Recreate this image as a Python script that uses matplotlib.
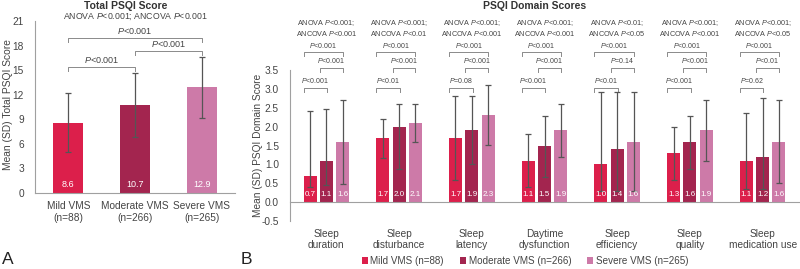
import matplotlib
matplotlib.use("Agg")
import matplotlib.pyplot as plt
from matplotlib.patches import Patch
import numpy as np

plt.rcParams['font.family'] = ['Liberation Sans', 'DejaVu Sans']
plt.rcParams['mathtext.fontset'] = 'custom'
plt.rcParams['mathtext.rm'] = 'Liberation Sans'
plt.rcParams['mathtext.it'] = 'Liberation Sans:italic'

# ---------------- data ----------------
groups = ["Mild VMS (n=88)", "Moderate VMS (n=266)", "Severe VMS (n=265)"]
total_labels = ["Mild VMS\n(n=88)", "Moderate VMS\n(n=266)", "Severe VMS\n(n=265)"]
total_mean = [8.6, 10.7, 12.9]
total_sd = [3.6, 3.9, 3.75]
total_pairs = ["$P$<0.001", "$P$<0.001", "$P$<0.001"]  # mild-mod, mod-sev, mild-sev
total_anova = "ANOVA $P$<0.001; ANCOVA $P$<0.001"

domains = ["Sleep\nduration", "Sleep\ndisturbance", "Sleep\nlatency", "Daytime\ndysfunction",
           "Sleep\nefficiency", "Sleep\nquality", "Sleep\nmedication use"]
mild_mean = [0.7, 1.7, 1.7, 1.1, 1.0, 1.3, 1.1]
mod_mean = [1.1, 2.0, 1.9, 1.5, 1.4, 1.6, 1.2]
sev_mean = [1.6, 2.1, 2.3, 1.9, 1.6, 1.9, 1.6]
mild_hi = [2.41, 2.20, 2.80, 1.80, 2.91, 2.00, 2.35]
mod_hi = [2.47, 2.60, 2.80, 2.29, 2.91, 2.29, 2.77]
sev_hi = [2.70, 2.60, 3.10, 2.60, 2.91, 2.70, 2.70]
mild_lo = [0.41, 1.17, 0.58, 0.39, 0.30, 0.58, 0.34]
mod_lo = [0.45, 0.89, 1.00, 0.67, 0.30, 0.89, 0.36]
sev_lo = [0.48, 1.58, 1.51, 1.20, 0.30, 1.09, 0.50]
anova_txt = ["ANOVA $P$<0.001;\nANCOVA $P$<0.001", "ANOVA $P$<0.001;\nANCOVA $P$<0.01",
             "ANOVA $P$<0.001;\nANCOVA $P$<0.001", "ANOVA $P$<0.001;\nANCOVA $P$<0.001",
             "ANOVA $P$<0.01;\nANCOVA $P$<0.05", "ANOVA $P$<0.001;\nANCOVA $P$<0.001",
             "ANOVA $P$<0.001;\nANCOVA $P$<0.05"]
p_mild_sev = ["$P$<0.001"] * 7
p_mod_sev = ["$P$<0.001", "$P$<0.001", "$P$<0.001", "$P$<0.001", "$P$=0.14", "$P$<0.001", "$P$<0.01"]
p_mild_mod = ["$P$<0.001", "$P$<0.01", "$P$=0.08", "$P$<0.001", "$P$<0.01", "$P$<0.001", "$P$=0.62"]

colors = ["#DC1F4B", "#A3254F", "#CD7AA8"]
ecol = "#555555"
bcol = "#8a8a8a"
tcol = "#444444"

fig = plt.figure(figsize=(8, 2.69), dpi=100)

# ---------------- Panel A ----------------
axA = fig.add_axes([35/800, 1-193/269, 200/800, (193-21)/269])
xA = np.arange(3)
axA.bar(xA, total_mean, width=0.45, color=colors, zorder=2)
axA.errorbar(xA, total_mean, yerr=total_sd, fmt='none', ecolor=ecol, elinewidth=0.9,
             capsize=2.5, capthick=0.9, zorder=3)
for i, v in enumerate(total_mean):
    axA.text(i, 1.0, f"{v}", ha='center', va='center', color='white', fontsize=6.5, zorder=4)
axA.set_xlim(-0.5, 2.5)
axA.set_ylim(0, 21)
axA.set_yticks(np.arange(0, 22, 3))
axA.set_xticks(xA)
axA.set_xticklabels(total_labels, fontsize=7.3, color=tcol, linespacing=1.15)
axA.tick_params(axis='both', length=0, labelsize=7.3, labelcolor=tcol)
axA.tick_params(axis='y', pad=8)
axA.tick_params(axis='x', pad=6)
for s in ['top', 'right']:
    axA.spines[s].set_visible(False)
for s in ['left', 'bottom']:
    axA.spines[s].set_color('#a0a0a0')
    axA.spines[s].set_linewidth(0.8)
fig.text(8/800, 1-105/269, "Mean (SD) Total PSQI Score", rotation=90, ha='center',
         va='center', fontsize=7.4, color=tcol)


def bracket(ax, x1, x2, y, leg, txt, fs, dy):
    ax.plot([x1, x1, x2, x2], [y - leg, y, y, y - leg], color=bcol, lw=0.7,
            clip_on=False, zorder=1)
    ax.text((x1 + x2) / 2, y + dy, txt, ha='center', va='bottom', fontsize=fs,
            color=tcol, clip_on=False)


bracket(axA, 0, 1, 15.4, 0.5, total_pairs[0], 6.5, 0.25)
bracket(axA, 1, 2, 17.3, 0.5, total_pairs[1], 6.5, 0.25)
bracket(axA, 0, 2, 18.9, 0.5, total_pairs[2], 6.5, 0.25)
axA.text(1, 21.6, total_anova, ha='center', va='center', fontsize=6.3, color=tcol, clip_on=False)

# ---------------- Panel B ----------------
axB = fig.add_axes([290/800, 1-221/269, 509/800, (221-70)/269])
xB = np.arange(len(domains))
off = 0.224
bw = 0.18
means = [mild_mean, mod_mean, sev_mean]
his = [mild_hi, mod_hi, sev_hi]
los = [mild_lo, mod_lo, sev_lo]
for k in range(3):
    xs = xB + (k - 1) * off
    m = np.array(means[k])
    axB.bar(xs, m, width=bw, color=colors[k], zorder=2, label=groups[k])
    yerr = [m - np.array(los[k]), np.array(his[k]) - m]
    axB.errorbar(xs, m, yerr=yerr, fmt='none', ecolor=ecol, elinewidth=0.9,
                 capsize=2, capthick=0.9, zorder=3)
    for x, v in zip(xs, m):
        axB.text(x, 0.19, f"{v:.1f}", ha='center', va='center', color='white',
                 fontsize=5.8, zorder=4)

for i in range(len(domains)):
    c = xB[i]
    l1 = c - off - bw / 2
    l2 = c - bw / 2
    bracket(axB, l1, c + 0.01, 3.03, 0.1, p_mild_mod[i], 5, 0.07)
    bracket(axB, l2, c + off, 3.55, 0.1, p_mod_sev[i], 5, 0.07)
    bracket(axB, l1, c + off, 3.97, 0.1, p_mild_sev[i], 5, 0.07)
    axB.text(c, 4.6, anova_txt[i], ha='center', va='center', fontsize=5.2,
             color=tcol, linespacing=1.15, clip_on=False)

axB.set_xlim(-0.5, len(domains) - 0.5)
axB.set_ylim(-0.5, 3.5)
axB.set_yticks(np.arange(-0.5, 3.51, 0.5))
axB.set_yticklabels([f"{v:.1f}" for v in np.arange(-0.5, 3.51, 0.5)])
axB.set_xticks(xB)
axB.set_xticklabels(domains, fontsize=7.3, color=tcol, linespacing=1.15)
axB.tick_params(axis='both', length=0, labelsize=7.3, labelcolor=tcol)
axB.tick_params(axis='y', pad=8)
axB.tick_params(axis='x', pad=19)
for s in ['top', 'right']:
    axB.spines[s].set_visible(False)
axB.spines['bottom'].set_position(('data', 0))
for s in ['left', 'bottom']:
    axB.spines[s].set_color('#a0a0a0')
    axB.spines[s].set_linewidth(0.8)
fig.text(258/800, 1-145/269, "Mean (SD) PSQI Domain Score", rotation=90, ha='center',
         va='center', fontsize=7.3, color=tcol)

handles = [Patch(facecolor=colors[k], label=groups[k]) for k in range(3)]
fig.legend(handles=handles, loc='center', bbox_to_anchor=(525/800, 1-261/269), ncol=3,
           frameon=False, fontsize=7.1, handlelength=0.6, handleheight=0.6,
           handletextpad=0.3, columnspacing=1.6, labelcolor=tcol)

# titles and panel letters
fig.text(126/800, 1-6/269, "Total PSQI Score", ha='center', va='center', fontsize=7.5,
         fontweight='bold', color='#333333')
fig.text(535/800, 1-6/269, "PSQI Domain Scores", ha='center', va='center', fontsize=7.5,
         fontweight='bold', color='#333333')
fig.text(2/800, 1-260/269, "A", ha='left', va='center', fontsize=12.5, color='#222222')
fig.text(241/800, 1-260/269, "B", ha='left', va='center', fontsize=12.5, color='#222222')

fig.savefig("out.png", dpi=100)
